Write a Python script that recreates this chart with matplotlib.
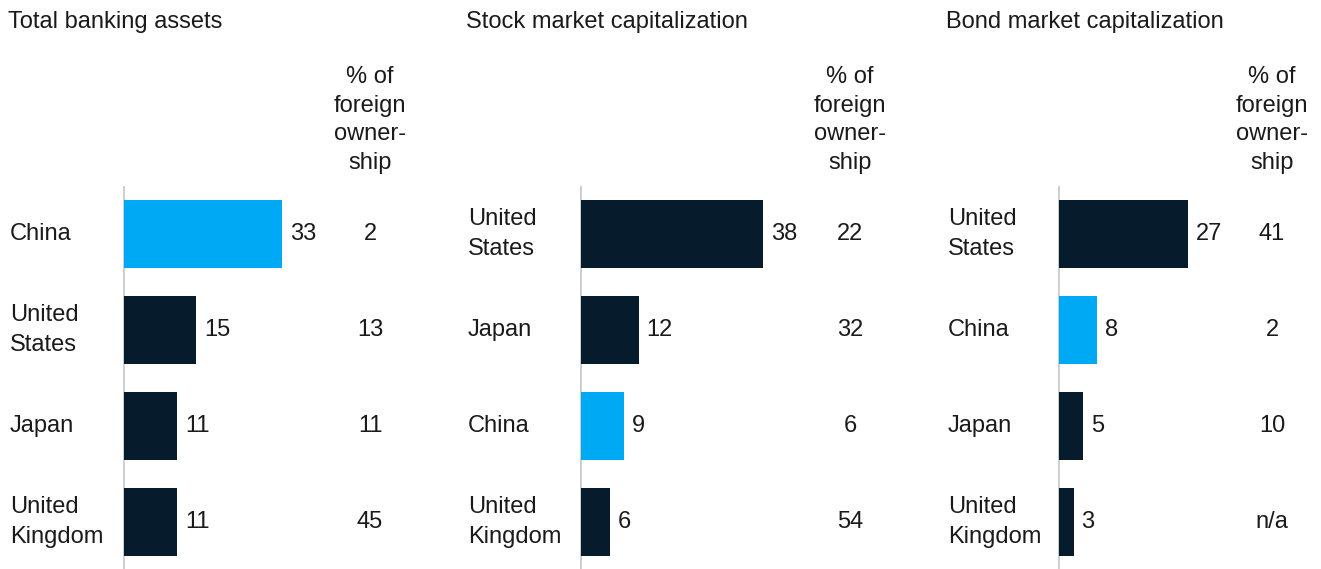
import matplotlib.pyplot as plt

plt.rcParams['font.family'] = ['Liberation Sans', 'DejaVu Sans']

NAVY = '#061c2c'
CYAN = '#00a9f4'
GRID = '#cccccc'
INK = '#1a1a1a'
FS = 17

titles = ['Total banking assets', 'Stock market capitalization', 'Bond market capitalization']
countries = [
    ['China', 'United\nStates', 'Japan', 'United\nKingdom'],
    ['United\nStates', 'Japan', 'China', 'United\nKingdom'],
    ['United\nStates', 'China', 'Japan', 'United\nKingdom'],
]
shares = [
    [33, 15, 11, 11],
    [38, 12, 9, 6],
    [27, 8, 5, 3],
]
foreign = [
    ['2', '13', '11', '45'],
    ['22', '32', '6', '54'],
    ['41', '2', '10', 'n/a'],
]
header = '% of\nforeign\nowner-\nship'

W, H = 1321, 569
fig = plt.figure(figsize=(W / 100, H / 100), dpi=100)

# pixel layout of each panel: title/label left edge, axis line, ownership column
panels = [(8, 123, 370), (466, 580, 850), (946, 1058, 1272)]
px_per_unit = 4.78
ax_top, ax_bot = 186, 569
ax_w = 300

for k, (x_title, x_axis, x_own) in enumerate(panels):
    ax = fig.add_axes([x_axis / W, 1 - ax_bot / H, ax_w / W, (ax_bot - ax_top) / H])
    ax.set_xlim(0, ax_w / px_per_unit)
    ax.set_ylim(3.49, -0.5)
    ax.axis('off')
    ax.axvline(0, color=GRID, lw=2, zorder=0)

    cols = [CYAN if c == 'China' else NAVY for c in countries[k]]
    ypos = range(len(shares[k]))
    ax.barh(list(ypos), shares[k], height=0.7, color=cols, left=0.25)

    own_x = (x_own - x_axis) / px_per_unit
    lab_x = (x_title + 2 - x_axis) / px_per_unit
    for i, v in enumerate(shares[k]):
        ax.text(v + 0.25 + 8 / px_per_unit, i, str(v), va='center', ha='left',
                fontsize=FS, color=INK)
        ax.text(own_x, i, foreign[k][i], va='center', ha='center',
                fontsize=FS, color=INK)
        ax.text(lab_x, i, countries[k][i], va='center', ha='left',
                fontsize=FS, color=INK, clip_on=False, linespacing=1.45)

    fig.text(x_title / W, 1 - 22 / H, titles[k], va='center', ha='left',
             fontsize=FS, color=INK)
    fig.text(x_own / W, 1 - 120 / H, header, va='center', ha='center',
             fontsize=FS, color=INK, linespacing=1.38)

fig.savefig('out.png', dpi=100)
